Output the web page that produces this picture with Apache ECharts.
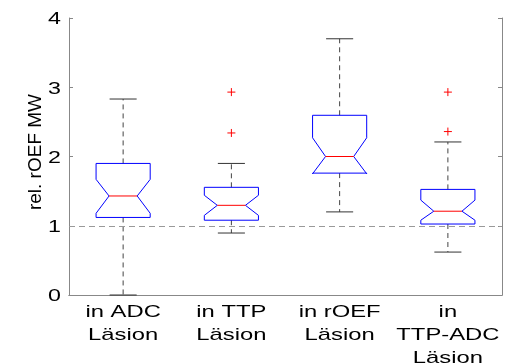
<!DOCTYPE html>
<html>
<head>
  <meta charset="utf-8">
  <title>rel. rOEF MW boxplot</title>
  <script src="https://cdn.jsdelivr.net/npm/echarts@6/dist/echarts.min.js"></script>
  <style>
    html, body { margin: 0; padding: 0; background: #fff; }
  </style>
</head>
<body>
  <div id="chartContainer" style="width: 509px; height: 363px;"></div>

  <script>
    // Categories and box statistics
    const categories = ['in ADC\nLäsion', 'in TTP\nLäsion', 'in rOEF\nLäsion', 'in\nTTP-ADC\nLäsion'];
    const whiskerLow  = [0.00, 0.895, 1.20, 0.62];
    const q1          = [1.12, 1.08, 1.76, 1.025];
    const notchLow    = [1.18, 1.15, 1.75, 1.08];
    const median      = [1.43, 1.295, 2.00, 1.21];
    const notchHigh   = [1.67, 1.44, 2.27, 1.37];
    const q3          = [1.90, 1.555, 2.595, 1.525];
    const whiskerHigh = [2.83, 1.90, 3.70, 2.21];
    // outliers: [category index, value]
    const outliers = [[1, 2.93], [1, 2.34], [3, 2.93], [3, 2.36]];
    const yTicks = [0, 1, 2, 3, 4];

    const boxData = categories.map((c, i) => [
      i, whiskerLow[i], q1[i], notchLow[i], median[i], notchHigh[i], q3[i], whiskerHigh[i]
    ]);

    const chartContainer = document.getElementById('chartContainer');
    const myChart = echarts.init(chartContainer);

    // the original figure's text is drawn wide, so labels get a horizontal stretch
    const textStretch = 1.4;

    // draws one notched box with whiskers
    function renderBox(params, api) {
      const idx = api.value(0);
      const x = api.coord([idx, 0])[0];
      const half = api.size([1, 0])[0] * 0.25;
      const nh = half * 0.52;
      const cap = half * 0.5;
      const y = v => api.coord([idx, v])[1];
      const yWL = y(api.value(1)), yQ1 = y(api.value(2)), yNL = y(api.value(3));
      const yMed = y(api.value(4)), yNH = y(api.value(5)), yQ3 = y(api.value(6));
      const yWH = y(api.value(7));
      const dash = { stroke: '#444', lineWidth: 1, lineDash: [5, 4] };
      const solid = { stroke: '#333', lineWidth: 1 };
      return {
        type: 'group',
        children: [
          { type: 'line', shape: { x1: x, y1: yQ3, x2: x, y2: yWH }, style: dash },
          { type: 'line', shape: { x1: x, y1: yQ1, x2: x, y2: yWL }, style: dash },
          { type: 'line', shape: { x1: x - cap, y1: yWH, x2: x + cap, y2: yWH }, style: solid },
          { type: 'line', shape: { x1: x - cap, y1: yWL, x2: x + cap, y2: yWL }, style: solid },
          {
            type: 'polygon',
            shape: {
              points: [
                [x - half, yQ3], [x + half, yQ3], [x + half, yNH], [x + nh, yMed],
                [x + half, yNL], [x + half, yQ1], [x - half, yQ1], [x - half, yNL],
                [x - nh, yMed], [x - half, yNH]
              ]
            },
            style: { fill: 'none', stroke: '#0000ff', lineWidth: 1 }
          },
          { type: 'line', shape: { x1: x - nh, y1: yMed, x2: x + nh, y2: yMed }, style: { stroke: '#ff0000', lineWidth: 1 } }
        ]
      };
    }

    // red plus markers
    function renderOutlier(params, api) {
      const p = api.coord([api.value(0), api.value(1)]);
      const s = 4;
      const st = { stroke: '#ff0000', lineWidth: 1 };
      return {
        type: 'group',
        children: [
          { type: 'line', shape: { x1: p[0] - s, y1: p[1], x2: p[0] + s, y2: p[1] }, style: st },
          { type: 'line', shape: { x1: p[0], y1: p[1] - s, x2: p[0], y2: p[1] + s }, style: st }
        ]
      };
    }

    // category labels under the axis
    function renderCatLabel(params, api) {
      const idx = api.value(0);
      const cs = params.coordSys;
      return {
        type: 'text',
        x: api.coord([idx, 0])[0],
        y: cs.y + cs.height + 6,
        scaleX: textStretch,
        silent: true,
        style: {
          text: categories[idx],
          fill: '#000',
          fontFamily: 'Liberation Sans',
          fontSize: 17,
          lineHeight: 23,
          align: 'center',
          verticalAlign: 'top'
        }
      };
    }

    // y tick labels left of the axis
    function renderTickLabel(params, api) {
      const v = api.value(1);
      const cs = params.coordSys;
      return {
        type: 'text',
        x: cs.x - 8,
        y: api.coord([0, v])[1] + 2,
        scaleX: 1.45,
        silent: true,
        style: {
          text: String(v),
          fill: '#000',
          fontFamily: 'Liberation Sans',
          fontSize: 16,
          align: 'right',
          verticalAlign: 'middle'
        }
      };
    }

    const axisGray = '#888';
    const option = {
      animation: false,
      grid: { left: 69, top: 18, right: 7, bottom: 68 },
      xAxis: [
        {
          type: 'category',
          data: categories,
          position: 'bottom',
          axisLine: { lineStyle: { color: axisGray } },
          axisTick: { inside: true, alignWithLabel: true, length: 4, lineStyle: { color: axisGray } },
          axisLabel: { show: false }
        },
        {
          type: 'category',
          data: categories,
          position: 'top',
          axisLine: { lineStyle: { color: axisGray } },
          axisTick: { inside: true, alignWithLabel: true, length: 4, lineStyle: { color: axisGray } },
          axisLabel: { show: false }
        }
      ],
      yAxis: [
        {
          type: 'value',
          min: yTicks[0],
          max: yTicks[yTicks.length - 1],
          interval: 1,
          name: 'rel. rOEF MW',
          nameLocation: 'middle',
          nameGap: 24,
          nameMoveOverlap: false,
          nameTextStyle: {
            color: '#000', fontFamily: 'Liberation Sans', fontSize: 19,
            padding: [0, 0, 0, 9]
          },
          axisLine: { show: true, lineStyle: { color: axisGray } },
          axisTick: { show: true, inside: true, length: 4, lineStyle: { color: axisGray } },
          axisLabel: { show: false },
          splitLine: { show: false }
        },
        {
          type: 'value',
          position: 'right',
          min: yTicks[0],
          max: yTicks[yTicks.length - 1],
          interval: 1,
          axisLine: { show: true, lineStyle: { color: axisGray } },
          axisTick: { show: true, inside: true, length: 4, lineStyle: { color: axisGray } },
          axisLabel: { show: false },
          splitLine: { show: false }
        }
      ],
      series: [
        {
          name: 'boxes',
          type: 'custom',
          renderItem: renderBox,
          data: boxData,
          encode: { x: 0, y: [1, 2, 3, 4, 5, 6, 7] },
          z: 3,
          markLine: {
            silent: true,
            symbol: ['none', 'none'],
            label: { show: false },
            lineStyle: { color: '#999', type: [6, 4], width: 1 },
            data: [{ yAxis: 1 }]
          }
        },
        {
          name: 'outliers',
          type: 'custom',
          renderItem: renderOutlier,
          data: outliers,
          encode: { x: 0, y: 1 },
          z: 4
        },
        {
          name: 'categoryLabels',
          type: 'custom',
          renderItem: renderCatLabel,
          data: categories.map((c, i) => [i, 0]),
          encode: { x: 0, y: 1 },
          clip: false,
          silent: true
        },
        {
          name: 'tickLabels',
          type: 'custom',
          renderItem: renderTickLabel,
          data: yTicks.map(v => [0, v]),
          encode: { x: 0, y: 1 },
          clip: false,
          silent: true
        }
      ]
    };

    myChart.setOption(option);
  </script>
</body>
</html>
